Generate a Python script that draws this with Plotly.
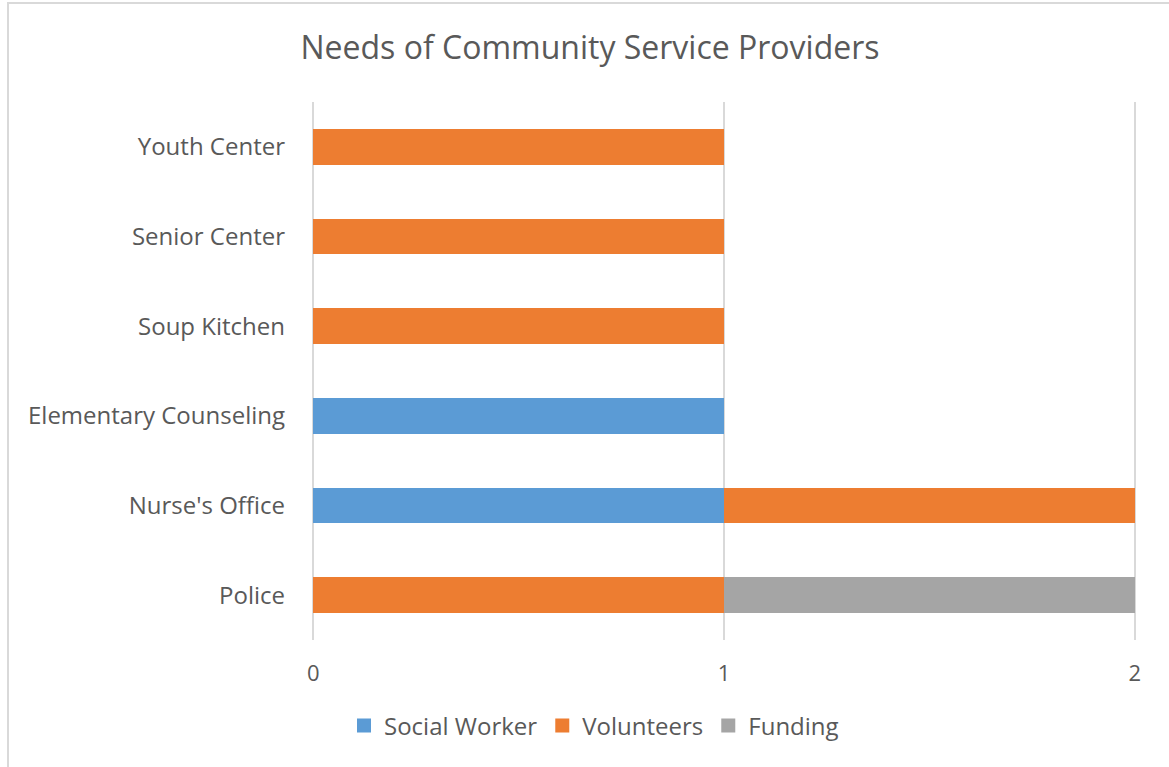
import plotly.graph_objects as go

categories = ["Police", "Nurse's Office", "Elementary Counseling",
              "Soup Kitchen", "Senior Center", "Youth Center"]
social_worker = [0, 1, 1, 0, 0, 0]
volunteers = [1, 1, 0, 1, 1, 1]
funding = [1, 0, 0, 0, 0, 0]
x_ticks = [0, 1, 2]

FONT = "Open Sans"
TEXT = "#595959"
GRID = "#D9D9D9"

W, H = 1169, 767
L, R, T, B = 312, 33, 102, 127
PW, PH = W - L - R, H - T - B

series = [
    ("Social Worker", social_worker, "#5B9BD5"),
    ("Volunteers", volunteers, "#ED7D31"),
    ("Funding", funding, "#A5A5A5"),
]

fig = go.Figure()
for name, vals, color in series:
    fig.add_trace(go.Bar(
        y=categories, x=vals, name=name, orientation="h",
        legendgroup=name, showlegend=False,
        marker=dict(color=color, line=dict(width=0)),
    ))
# square legend keys
for name, vals, color in series:
    fig.add_trace(go.Scatter(
        x=[None], y=[None], mode="markers", name=name,
        legendgroup=name, showlegend=True,
        marker=dict(symbol="square", size=14, color=color),
    ))

fig.update_layout(
    barmode="stack",
    bargap=0.6,
    width=W, height=H,
    margin=dict(l=L, r=R, t=T, b=B),
    paper_bgcolor="white", plot_bgcolor="white",
    font=dict(family=FONT, color=TEXT),
    title=dict(
        text="Needs of Community Service Providers",
        x=590 / W, xanchor="center", xref="container",
        y=1 - 48 / H, yanchor="middle", yref="container",
        font=dict(size=32, color=TEXT, family=FONT),
    ),
    xaxis=dict(
        range=[-0.003, 2.003], tickvals=x_ticks,
        ticktext=[str(v) for v in x_ticks],
        showgrid=True, gridcolor=GRID, gridwidth=2,
        zeroline=False, showline=False, ticks="",
        tickfont=dict(size=22, color=TEXT), ticklabelstandoff=18,
    ),
    yaxis=dict(
        categoryorder="array", categoryarray=categories,
        range=[-0.5, 5.5], showgrid=False, zeroline=False,
        showline=False, ticks="", ticklabelstandoff=26,
        tickfont=dict(size=24, color=TEXT),
    ),
    legend=dict(
        orientation="h", x=594 / W, xanchor="center", xref="container",
        y=1 - 726 / H, yanchor="middle", yref="container",
        font=dict(size=24, color=TEXT), traceorder="normal",
        itemwidth=30,
    ),
    showlegend=True,
)

# chart frame (left and top edges visible)
fig.add_shape(type="rect", xref="paper", yref="paper",
              x0=(8 - L) / PW, x1=(W + 40 - L) / PW,
              y0=-(B + 40) / PH, y1=1 + (T - 3) / PH,
              line=dict(color=GRID, width=2), layer="below")

fig.write_html("out.html")
